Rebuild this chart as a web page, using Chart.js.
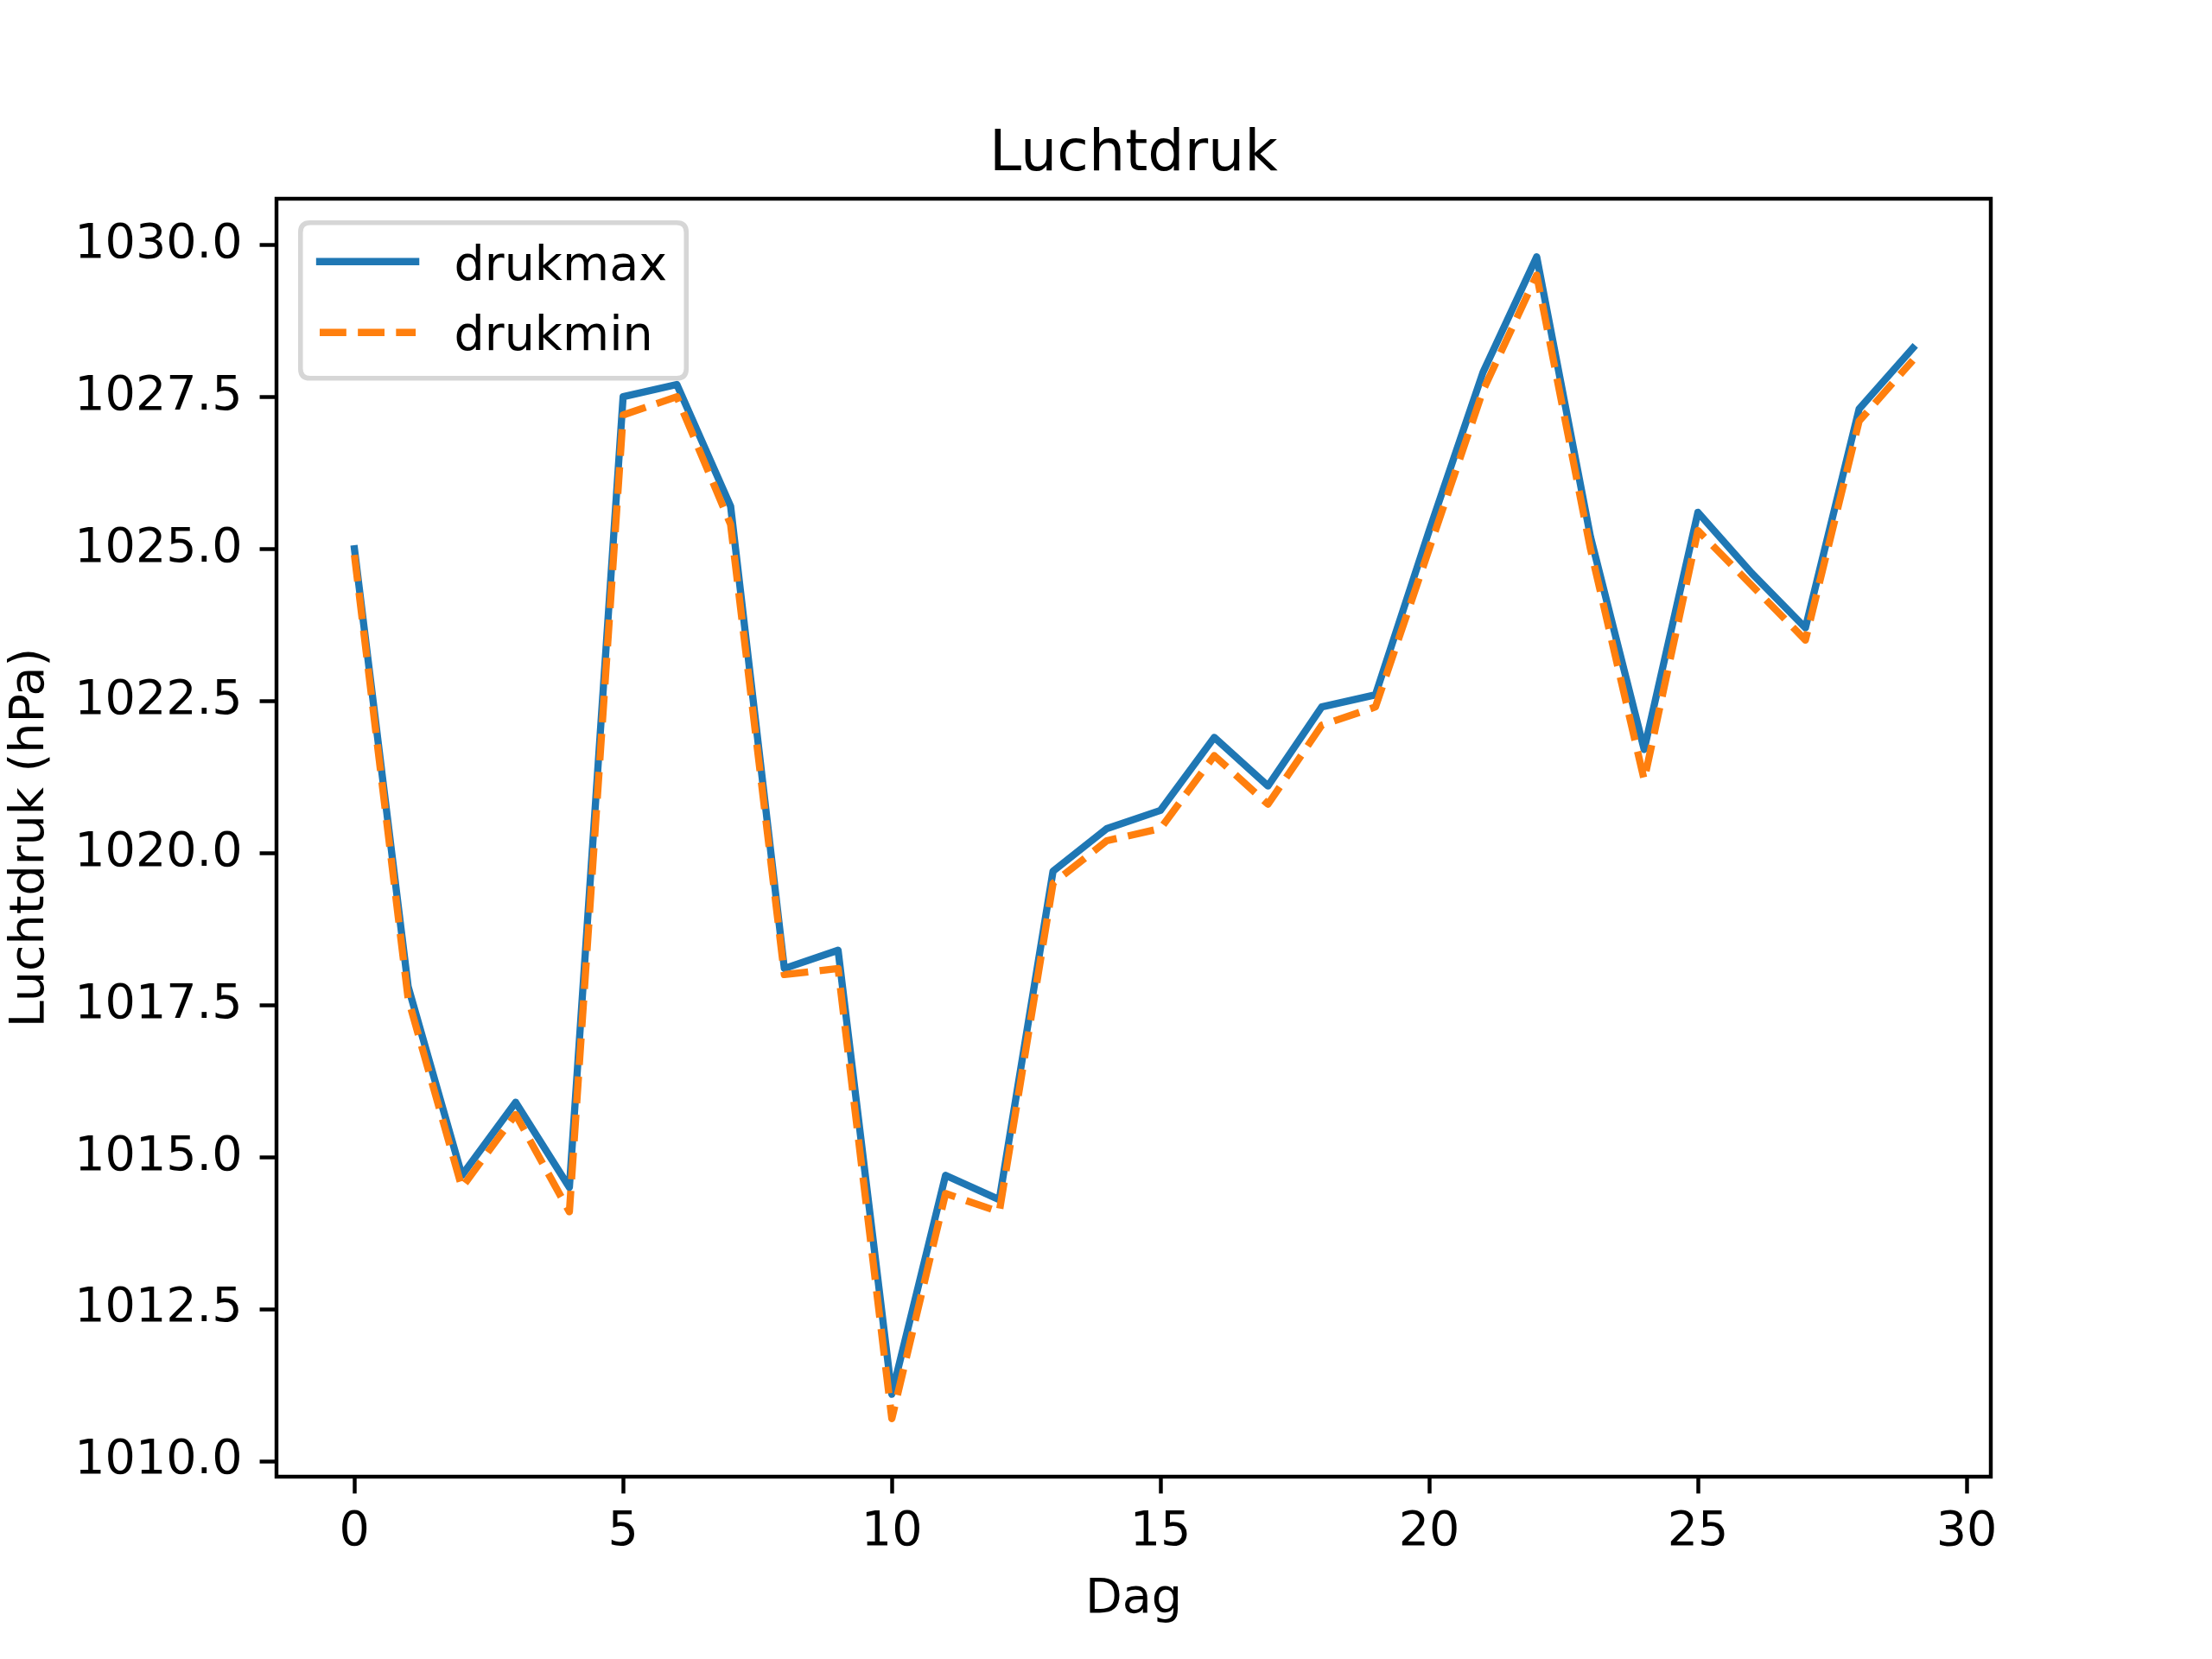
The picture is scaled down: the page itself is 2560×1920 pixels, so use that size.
<!DOCTYPE html>
<html>
<head>
<meta charset="utf-8">
<title>Luchtdruk</title>
<script src="https://cdn.jsdelivr.net/npm/chart.js@4.4.1/dist/chart.umd.min.js"></script>
<style>
  html, body { margin: 0; padding: 0; background: #fff; }
  #grafiek { display: block; }
</style>
</head>
<body>
<canvas id="grafiek" width="2560" height="1920" style="width:2560px;height:1920px"></canvas>
<script>
// data
var dagen = [0, 1, 2, 3, 4, 5, 6, 7, 8, 9, 10, 11, 12, 13, 14, 15, 16, 17, 18, 19, 20, 21, 22, 23, 24, 25, 26, 27, 28, 29];
var drukmax = [1025.0, 1017.8, 1014.7, 1015.9, 1014.5, 1027.5, 1027.7, 1025.7, 1018.1, 1018.4,
               1011.1, 1014.7, 1014.3, 1019.7, 1020.4, 1020.7, 1021.9, 1021.1, 1022.4, 1022.6,
               1025.3, 1027.9, 1029.8, 1025.2, 1021.7, 1025.6, 1024.6, 1023.7, 1027.3, 1028.3];
var drukmin = [1024.9, 1017.6, 1014.5, 1015.7, 1014.1, 1027.2, 1027.5, 1025.4, 1018.0, 1018.1,
               1010.7, 1014.4, 1014.1, 1019.5, 1020.2, 1020.4, 1021.6, 1020.8, 1022.1, 1022.4,
               1025.0, 1027.6, 1029.5, 1025.0, 1021.2, 1025.3, 1024.4, 1023.5, 1027.1, 1028.1];
var xTicks = [0, 5, 10, 15, 20, 25, 30];
var yTicks = [1010.0, 1012.5, 1015.0, 1017.5, 1020.0, 1022.5, 1025.0, 1027.5, 1030.0];
var titel = "Luchtdruk";

var fuente = "'DejaVu Sans', sans-serif";
var px = 400 / 72; // 1pt bij 400 dpi

function punten(ys) {
  var res = [];
  for (var i = 0; i < dagen.length; i++) {
    res.push({ x: dagen[i], y: ys[i] });
  }
  return res;
}

// kader rond het plotgebied + titel boven het plotgebied
var kader = {
  id: "kader",
  afterDatasetsDraw: function (chart) {
    var a = chart.chartArea;
    var ctx = chart.ctx;
    ctx.save();
    ctx.strokeStyle = "#000";
    ctx.lineWidth = 0.8 * px;
    ctx.strokeRect(a.left, a.top, a.right - a.left, a.bottom - a.top);
    ctx.fillStyle = "#000";
    ctx.font = (12 * px) + "px " + fuente;
    ctx.textAlign = "center";
    ctx.textBaseline = "alphabetic";
    ctx.fillText(titel, (a.left + a.right) / 2, a.top - 6 * px);
    ctx.restore();
  }
};

// legenda linksboven in het plotgebied
var legenda = {
  id: "legenda",
  afterDraw: function (chart) {
    var a = chart.chartArea;
    var ctx = chart.ctx;
    var fs = 10 * px;
    var sets = [chart.data.datasets[0], chart.data.datasets[1]];
    ctx.save();
    ctx.font = fs + "px " + fuente;
    var breed = 0;
    sets.forEach(function (ds) {
      breed = Math.max(breed, ctx.measureText(ds.label).width);
    });
    var x0 = a.left + 0.5 * fs;
    var y0 = a.top + 0.5 * fs;
    var pad = 0.4 * fs;
    var hl = 2.0 * fs;
    var tp = 0.8 * fs;
    var w = pad + hl + tp + breed + pad;
    var h = 180;
    var r = 0.2 * fs;

    ctx.beginPath();
    ctx.moveTo(x0 + r, y0);
    ctx.lineTo(x0 + w - r, y0);
    ctx.quadraticCurveTo(x0 + w, y0, x0 + w, y0 + r);
    ctx.lineTo(x0 + w, y0 + h - r);
    ctx.quadraticCurveTo(x0 + w, y0 + h, x0 + w - r, y0 + h);
    ctx.lineTo(x0 + r, y0 + h);
    ctx.quadraticCurveTo(x0, y0 + h, x0, y0 + h - r);
    ctx.lineTo(x0, y0 + r);
    ctx.quadraticCurveTo(x0, y0, x0 + r, y0);
    ctx.closePath();
    ctx.fillStyle = "rgba(255,255,255,0.8)";
    ctx.fill();
    ctx.strokeStyle = "rgba(204,204,204,0.8)";
    ctx.lineWidth = 1.0 * px;
    ctx.stroke();

    var lijnY = [y0 + 45, y0 + 127];
    var tekstY = [y0 + 66, y0 + 147];
    sets.forEach(function (ds, i) {
      ctx.beginPath();
      ctx.strokeStyle = ds.borderColor;
      ctx.lineWidth = ds.borderWidth;
      ctx.lineCap = ds.borderDash.length ? "butt" : "square";
      ctx.setLineDash(ds.borderDash);
      ctx.moveTo(x0 + pad, lijnY[i]);
      ctx.lineTo(x0 + pad + hl, lijnY[i]);
      ctx.stroke();
      ctx.setLineDash([]);
      ctx.fillStyle = "#000";
      ctx.textBaseline = "alphabetic";
      ctx.textAlign = "left";
      ctx.fillText(ds.label, x0 + pad + hl + tp, tekstY[i]);
    });
    ctx.restore();
  }
};

var ctx = document.getElementById("grafiek").getContext("2d");
var grafiek = new Chart(ctx, {
  type: "line",
  data: {
    datasets: [
      {
        label: "drukmax",
        data: punten(drukmax),
        borderColor: "#1f77b4",
        borderWidth: 1.5 * px,
        borderDash: [],
        borderJoinStyle: "round",
        borderCapStyle: "square",
        pointRadius: 0,
        tension: 0,
        fill: false,
        order: 1
      },
      {
        label: "drukmin",
        data: punten(drukmin),
        borderColor: "#ff7f0e",
        borderWidth: 1.5 * px,
        borderDash: [3.7 * 1.5 * px, 1.6 * 1.5 * px],
        borderJoinStyle: "round",
        borderCapStyle: "butt",
        pointRadius: 0,
        tension: 0,
        fill: false,
        order: 0
      }
    ]
  },
  options: {
    responsive: false,
    animation: false,
    devicePixelRatio: 1,
    layout: { padding: { left: 0, right: 256, top: 230, bottom: 0 } },
    plugins: {
      legend: { display: false },
      tooltip: { enabled: false },
      title: { display: false }
    },
    scales: {
      x: {
        type: "linear",
        min: -1.45,
        max: 30.45,
        afterBuildTicks: function (scale) {
          scale.ticks = xTicks.map(function (v) { return { value: v }; });
        },
        afterFit: function (scale) {
          scale.height = 211;
        },
        border: { display: false },
        grid: {
          display: true,
          drawOnChartArea: false,
          drawTicks: true,
          tickLength: 3.5 * px,
          tickWidth: 0.8 * px,
          tickColor: "#000"
        },
        ticks: {
          color: "#000",
          padding: 12,
          maxRotation: 0,
          autoSkip: false,
          font: { family: fuente, size: 10 * px },
          callback: function (v) { return String(v); }
        },
        title: {
          display: true,
          text: "Dag",
          color: "#000",
          font: { family: fuente, size: 10 * px, lineHeight: 1.2 },
          padding: { top: 0, bottom: 35 }
        }
      },
      y: {
        type: "linear",
        min: 1009.745,
        max: 1030.755,
        afterBuildTicks: function (scale) {
          scale.ticks = yTicks.map(function (v) { return { value: v }; });
        },
        afterFit: function (scale) {
          scale.width = 320;
        },
        border: { display: false },
        grid: {
          display: true,
          drawOnChartArea: false,
          drawTicks: true,
          tickLength: 3.5 * px,
          tickWidth: 0.8 * px,
          tickColor: "#000"
        },
        ticks: {
          color: "#000",
          padding: 20,
          autoSkip: false,
          font: { family: fuente, size: 10 * px },
          callback: function (v) { return Number(v).toFixed(1); }
        },
        title: {
          display: true,
          text: "Luchtdruk (hPa)",
          color: "#000",
          font: { family: fuente, size: 10 * px, lineHeight: 1.2 },
          padding: { top: 2, bottom: 0 }
        }
      }
    }
  },
  plugins: [kader, legenda]
});
</script>
</body>
</html>
